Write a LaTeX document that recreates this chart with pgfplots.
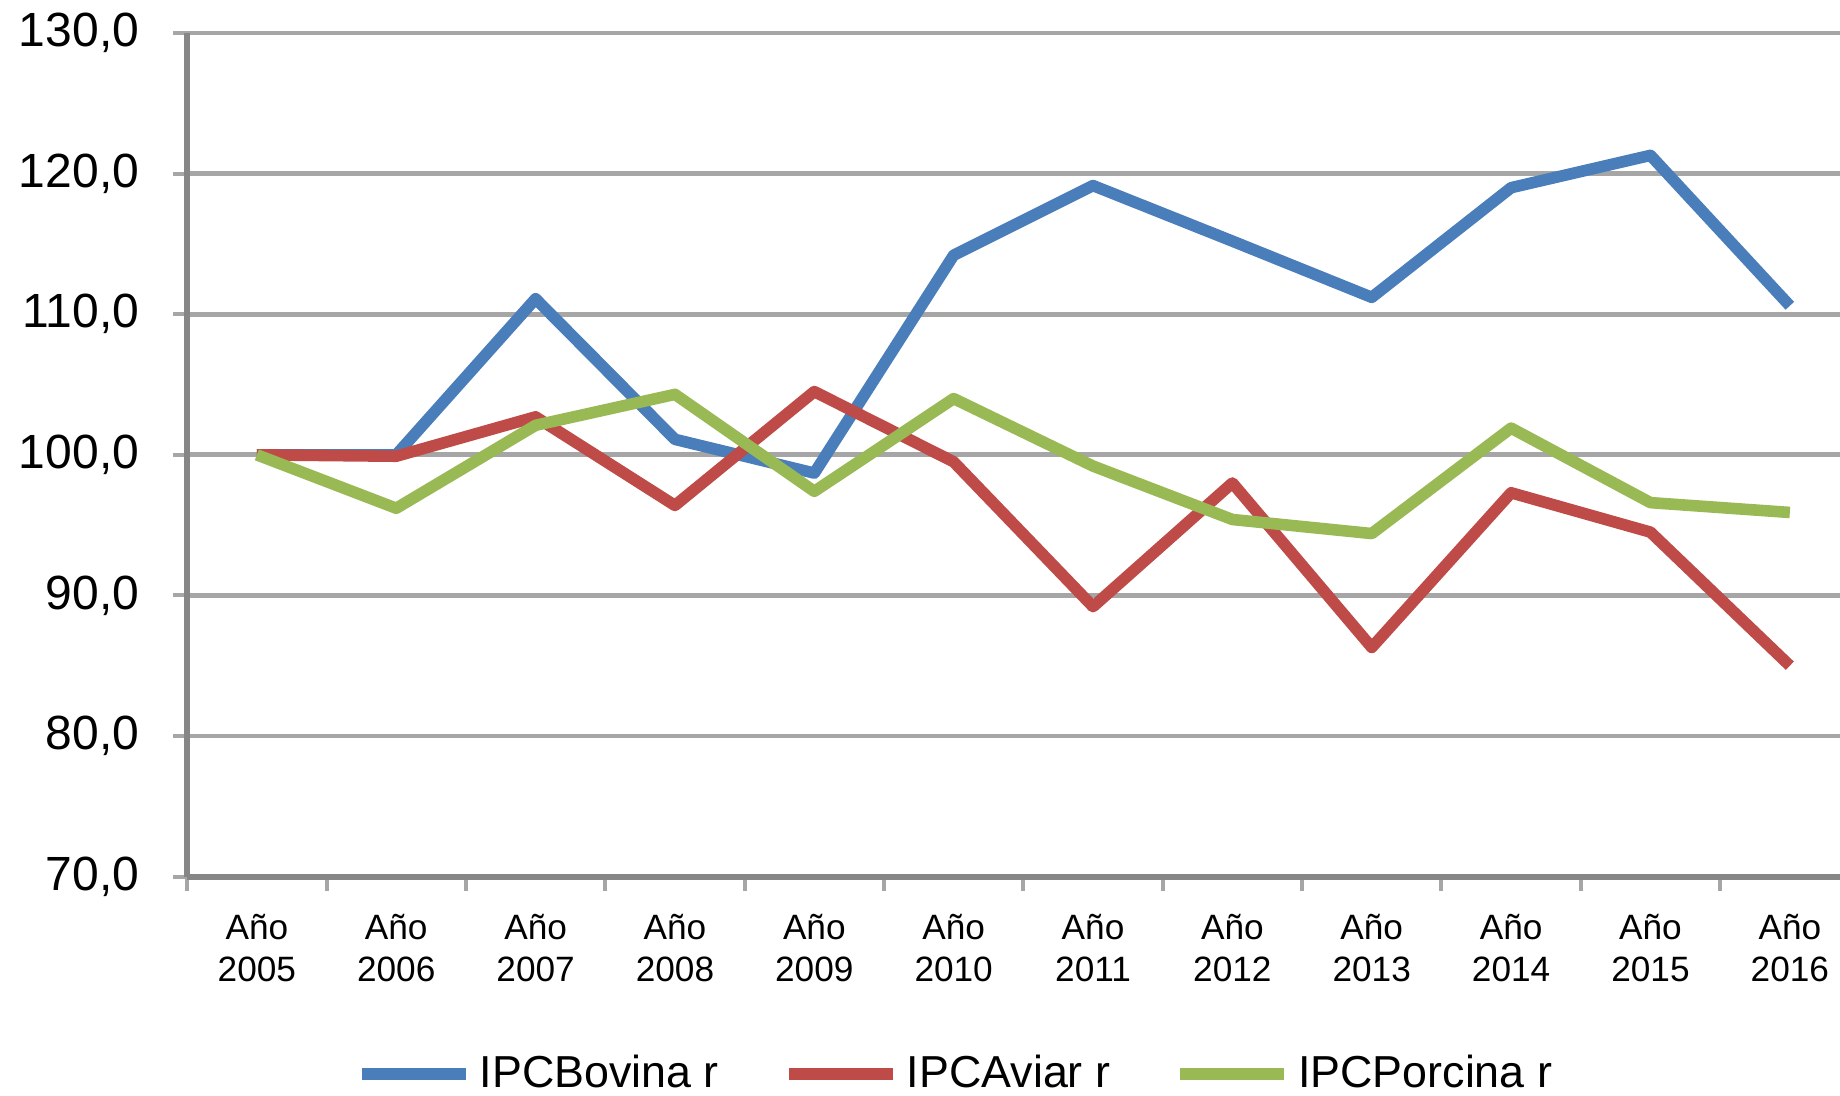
\documentclass[border=0pt]{standalone}
\usepackage{pgfplots}
\pgfplotsset{compat=1.18}
\usepackage{fontspec}
\setmainfont{Liberation Sans}
\definecolor{cblue}{HTML}{4A7EBB}
\definecolor{cred}{HTML}{BE4B48}
\definecolor{cgreen}{HTML}{98B954}
\definecolor{cgrid}{HTML}{A6A6A6}
\definecolor{caxis}{HTML}{868686}
\begin{document}
\begin{tikzpicture}
\useasboundingbox (-46.8pt,-54.6pt) rectangle (413.2pt,219.15pt);
\begin{axis}[
  at={(0pt,0pt)}, anchor=south west,
  scale only axis, width=413.2pt, height=210.9pt,
  xmin=-0.5, xmax=11.36, ymin=70, ymax=130,
  axis x line=bottom, axis y line=left,
  axis line style={-, caxis, line width=1.5pt},
  ytick={70,80,...,130},
  ymajorgrids, major grid style={cgrid, line width=1.2pt},
  tick align=outside, major tick length=3.5pt,
  tick style={cgrid, line width=1pt},
  xtick={-0.5,0.5,...,10.5}, xticklabels={},
  extra x ticks={0,1,...,11},
  extra x tick labels={{Año\\2005},{Año\\2006},{Año\\2007},{Año\\2008},{Año\\2009},{Año\\2010},{Año\\2011},{Año\\2012},{Año\\2013},{Año\\2014},{Año\\2015},{Año\\2016}},
  extra x tick style={major tick length=0pt},
  xticklabel style={align=center, font=\fontsize{8.8}{10.75}\selectfont, text=black, yshift=-5.75pt},
  yticklabel style={font=\fontsize{12}{14}\selectfont, text=black, xshift=-5pt,
    /pgf/number format/.cd, fixed, fixed zerofill, precision=1, use comma, assume math mode=true},
  legend style={at={(0.4664,-0.234)}, anchor=center, draw=none, fill=none,
    font=\fontsize{11.2}{13}\selectfont, /tikz/every even column/.append style={column sep=14pt}},
  legend columns=3,
  legend image code/.code={\draw[#1, line width=3pt] (0pt,0pt) -- (26pt,0pt);},
]
\addplot[cblue, line width=2.9pt, line join=round] coordinates {
(0,100) (1,100) (2,111.1) (3,101.1) (4,98.7) (5,114.2) (6,119.15) (7,115.2) (8,111.2) (9,119.0) (10,121.3) (11,110.6)};
\addlegendentry{IPCBovina r}
\addplot[cred, line width=2.9pt, line join=round] coordinates {
(0,100) (1,99.9) (2,102.7) (3,96.4) (4,104.5) (5,99.5) (6,89.2) (7,98.0) (8,86.3) (9,97.3) (10,94.5) (11,85.0)};
\addlegendentry{IPCAviar r}
\addplot[cgreen, line width=2.9pt, line join=round] coordinates {
(0,100) (1,96.2) (2,102.1) (3,104.3) (4,97.4) (5,104.0) (6,99.2) (7,95.4) (8,94.4) (9,101.9) (10,96.6) (11,95.9)};
\addlegendentry{IPCPorcina r}
\end{axis}
\end{tikzpicture}
\end{document}
